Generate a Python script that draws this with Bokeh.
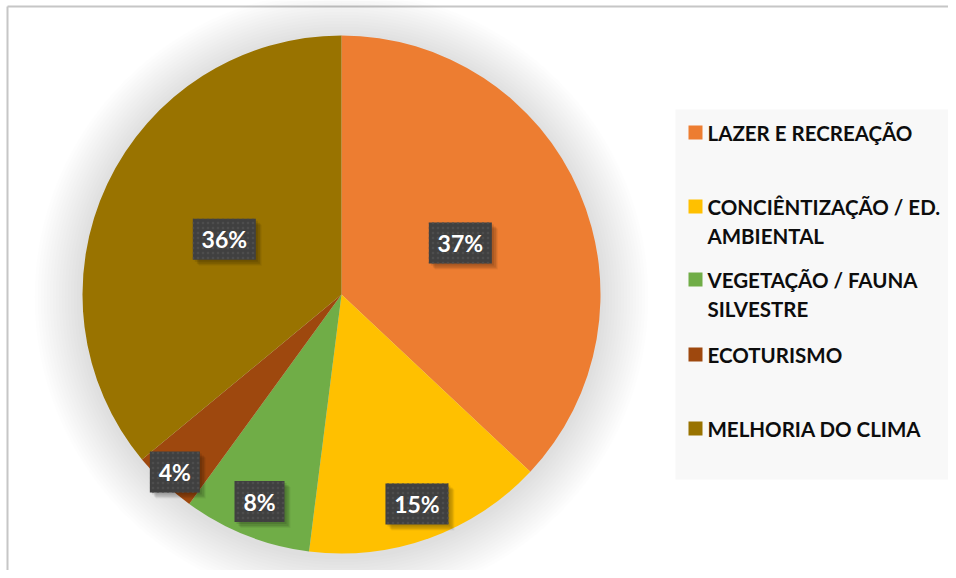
import math
from bokeh.plotting import figure
from bokeh.models import Range1d
from bokeh.core.properties import value
from bokeh.embed import file_html
from bokeh.resources import INLINE

# ---- data ----
categories = ["LAZER E RECREAÇÃO", "CONCIÊNTIZAÇÃO / ED.\nAMBIENTAL",
              "VEGETAÇÃO / FAUNA\nSILVESTRE", "ECOTURISMO", "MELHORIA DO CLIMA"]
percentages = [37, 15, 8, 4, 36]
colors = ["#ED7D31", "#FFC000", "#70AD47", "#9E480E", "#997300"]

# ---- layout (pixel frame: x = picture x, y = H - picture y) ----
W, H = 948, 570
def Y(sy):
    return H - sy

cx, cy, R = 341, Y(294), 259
label_frac = [0.5, 0.86, 0.86, 0.94, 0.5]

p = figure(width=W, height=H, output_backend="svg", toolbar_location=None,
           x_range=Range1d(0, W), y_range=Range1d(0, H),
           min_border=0, x_axis_location=None, y_axis_location=None)
p.grid.visible = False
p.background_fill_color = "white"
p.border_fill_color = "white"
p.outline_line_color = None

# frame (left and top edges visible in the reference)
p.segment(x0=[7, 7], y0=[Y(6), Y(6)], x1=[7, W], y1=[0, Y(6)],
          line_color="#c6c6c6", line_width=2)

# soft glow/shadow around the pie
n = 16
for i in range(n, 0, -1):
    p.circle(x=[cx], y=[cy - 3], radius=R + i * 3, fill_color="#000000",
             fill_alpha=0.009, line_color=None)

total = sum(percentages)
starts, ends, mids = [], [], []
acc = 0.0
for v in percentages:
    a0 = acc / total
    acc += v
    a1 = acc / total
    starts.append(math.pi / 2 - 2 * math.pi * a1)
    ends.append(math.pi / 2 - 2 * math.pi * a0)
    mids.append((a0 + a1) / 2)

p.wedge(x=[cx] * len(percentages), y=[cy] * len(percentages), radius=R,
        start_angle=starts, end_angle=ends, fill_color=colors, line_color=None)

# data labels
lx, ly, lw, txt = [], [], [], []
for v, m, f in zip(percentages, mids, label_frac):
    ang = 2 * math.pi * m
    d = f * R
    lx.append(cx + d * math.sin(ang))
    ly.append(cy + d * math.cos(ang))
    t = f"{v}%"
    txt.append(t)
    lw.append(24 + 13 * len(t))

for k, a in ((6, 0.05), (5, 0.07), (4, 0.09), (2, 0.10)):
    p.rect(x=[x + k for x in lx], y=[y - k for y in ly], width=lw, height=41,
           fill_color="#000000", fill_alpha=a, line_color=None)
p.rect(x=lx, y=ly, width=lw, height=41, fill_color="#404040", line_color=None,
       hatch_pattern="dot", hatch_color="#4d4d4d", hatch_scale=5, hatch_weight=2)
p.text(x=lx, y=ly, text=txt, text_align="center", text_baseline="middle",
       text_font=value("Lato"), text_font_style="bold", text_font_size="23px",
       text_color="white")

# legend
p.quad(left=[675], right=[W], top=[Y(109)], bottom=[Y(479)],
       fill_color="#f8f8f8", line_color=None)
legend_rows = [132, 206, 279, 354, 428]
line_gap = 29
p.rect(x=[695] * len(categories), y=[Y(r) for r in legend_rows], width=14, height=14,
       fill_color=colors, line_color=None)
tx, ty, tt = [], [], []
for lab, r in zip(categories, legend_rows):
    for j, line in enumerate(lab.split("\n")):
        tx.append(707)
        ty.append(Y(r + j * line_gap))
        tt.append(line)
p.text(x=tx, y=ty, text=tt, text_align="left", text_baseline="middle",
       text_font=value("Lato"), text_font_style="bold", text_font_size="20.5px",
       text_color="#0d0d0d")

open("out.html", "w").write(file_html(p, INLINE))
